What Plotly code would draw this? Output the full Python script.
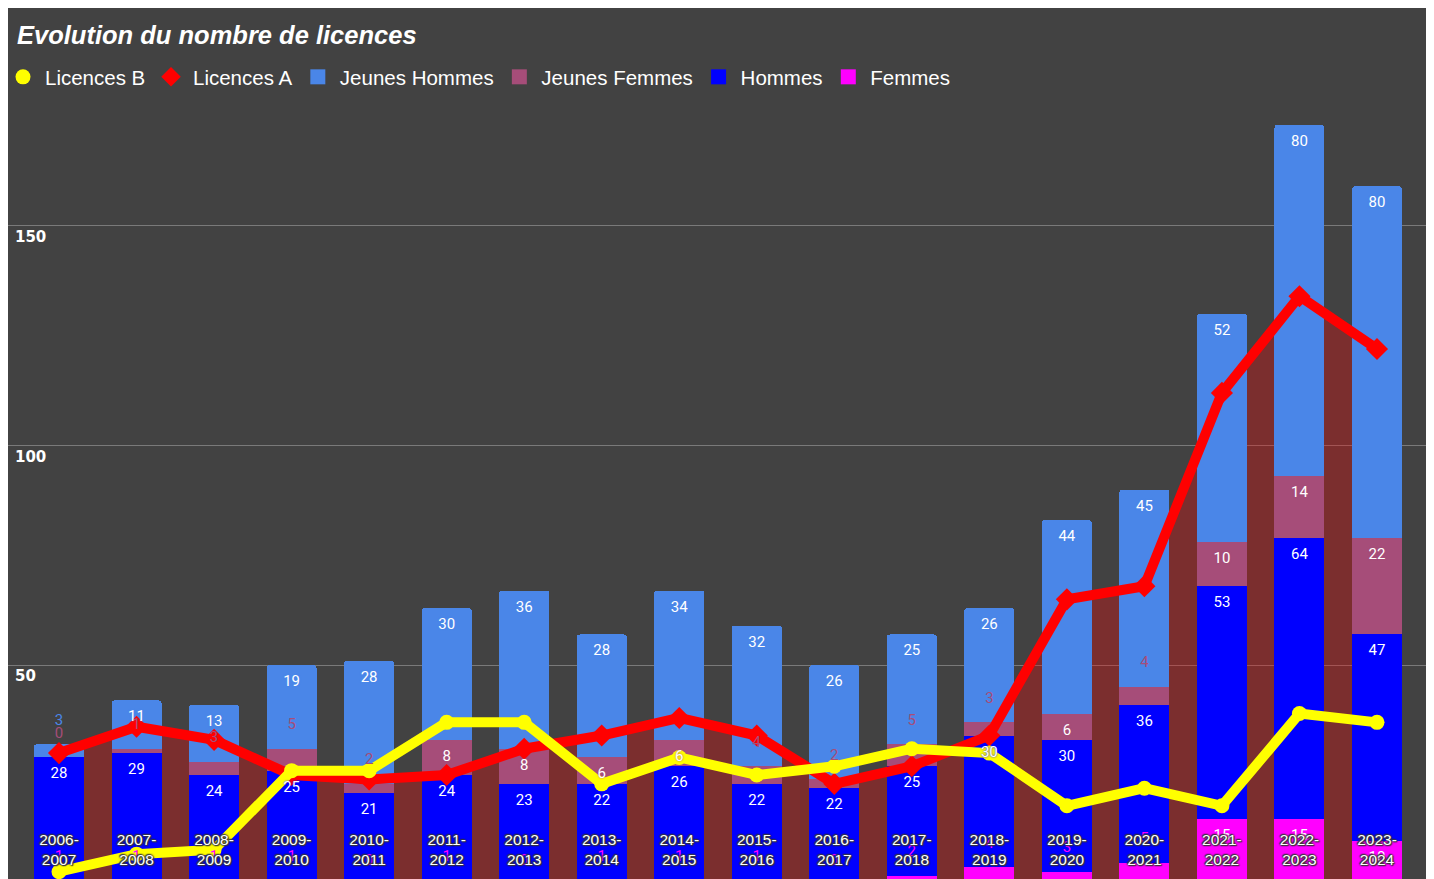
import plotly.graph_objects as go

# ---------------- data ----------------
saisons = ["2006-2007", "2007-2008", "2008-2009", "2009-2010", "2010-2011", "2011-2012",
           "2012-2013", "2013-2014", "2014-2015", "2015-2016", "2016-2017", "2017-2018",
           "2018-2019", "2019-2020", "2020-2021", "2021-2022", "2022-2023", "2023-2024"]
femmes = [1, 1, 1, 1, 0, 1, 0, 1, 1, 1, 0, 2, 4, 3, 5, 15, 15, 10]
hommes = [28, 29, 24, 25, 21, 24, 23, 22, 26, 22, 22, 25, 30, 30, 36, 53, 64, 47]
jeunes_femmes = [0, 1, 3, 5, 2, 8, 8, 6, 6, 4, 2, 5, 3, 6, 4, 10, 14, 22]
jeunes_hommes = [3, 11, 13, 19, 28, 30, 36, 28, 34, 32, 26, 25, 26, 44, 45, 52, 80, 80]
licences_a = [30, 36, 33, 25, 24, 25, 31, 34, 38, 34, 23, 27, 34, 65, 68, 112, 134, 122]
licences_b = [3, 7, 8, 26, 26, 37, 37, 23, 29, 25, 27, 31, 30, 18, 22, 18, 39, 37]
y_ticks = [50, 100, 150]
title = "Evolution du nombre de licences"

# ---------------- style ----------------
BG = "#424242"
C_F, C_H, C_JF, C_JH = "#ff00ff", "#0000ff", "#a64d79", "#4a86e8"
C_A, C_B = "#ff0000", "#ffff00"
W, H = 1420, 871
ML, MR, MT, MB = 0, 0, 92, 0
Y_RANGE = [1.34, 178.67]
X_RANGE = [-0.658, len(saisons) - 1 + 0.658]
LABEL_FONT = "Roboto"

fig = go.Figure()

# area under Licences A (drawn on base subplot, under bars)
fig.add_trace(go.Scatter(x=saisons, y=licences_a, mode="lines", fill="tozeroy",
                         fillcolor="rgba(255,0,0,0.3)", line=dict(width=0, color=C_A),
                         showlegend=False, hoverinfo="skip", xaxis="x", yaxis="y"))

stack = [("Femmes", femmes, C_F), ("Hommes", hommes, C_H),
         ("Jeunes Femmes", jeunes_femmes, C_JF), ("Jeunes Hommes", jeunes_hommes, C_JH)]

for name, vals, col in stack:
    fig.add_trace(go.Bar(x=saisons, y=vals, name=name, marker=dict(color=col, line=dict(width=0)),
                         showlegend=False, hoverinfo="skip", xaxis="x", yaxis="y2"))

fig.add_trace(go.Scatter(x=saisons, y=licences_a, mode="lines+markers",
                         line=dict(color=C_A, width=10),
                         marker=dict(symbol="diamond", size=17, color=C_A),
                         showlegend=False, hoverinfo="skip", xaxis="x", yaxis="y2"))
fig.add_trace(go.Scatter(x=saisons, y=licences_b, mode="lines+markers",
                         line=dict(color=C_B, width=10),
                         marker=dict(symbol="circle", size=15, color=C_B),
                         showlegend=False, hoverinfo="skip", xaxis="x", yaxis="y2"))

# data labels
base = [0] * len(saisons)
for name, vals, col in stack:
    tops = [b + v for b, v in zip(base, vals)]
    txt_in = [str(v) if v >= 6 else "" for v in vals]
    txt_out = [str(v) if v < 6 else "" for v in vals]
    fig.add_trace(go.Scatter(x=saisons, y=tops, text=txt_in, mode="markers+text",
                             textposition="bottom center",
                             marker=dict(size=14, color="rgba(0,0,0,0)"),
                             textfont=dict(family=LABEL_FONT, size=15, color="white",
                                           shadow=f"0 0 2px {col}"),
                             showlegend=False, hoverinfo="skip", xaxis="x", yaxis="y2"))
    fig.add_trace(go.Scatter(x=saisons, y=tops, text=txt_out, mode="markers+text",
                             textposition="top center",
                             marker=dict(size=24, color="rgba(0,0,0,0)"),
                             textfont=dict(family=LABEL_FONT, size=15, color=col),
                             showlegend=False, hoverinfo="skip", xaxis="x", yaxis="y2"))
    base = tops

# legend entries
legend_items = [("Licences B", "circle", C_B, 15), ("Licences A", "diamond", C_A, 15),
                ("Jeunes Hommes", "square", C_JH, 15), ("Jeunes Femmes", "square", C_JF, 15),
                ("Hommes", "square", C_H, 15), ("Femmes", "square", C_F, 15)]
for nm, sym, col, sz in legend_items:
    fig.add_trace(go.Scatter(x=[None], y=[None], mode="markers", name=nm + "\u00a0",
                             marker=dict(symbol=sym, size=sz, color=col),
                             xaxis="x", yaxis="y2"))

tick_text = [s.replace("-", "-<br>") for s in saisons]
halo = ("0 0 2px #383838, 0 0 2px #383838, 0 0 2px #383838, "
        "1px 1px 1px #383838, -1px -1px 1px #383838")

fig.update_layout(
    width=W, height=H,
    margin=dict(l=ML, r=MR, t=MT, b=MB, pad=0),
    paper_bgcolor=BG, plot_bgcolor=BG,
    barmode="stack", bargap=0.355, barcornerradius=3,
    hovermode=False,
    title=dict(text="<b><i>" + title + "</i></b>", x=9 / W, xanchor="left", xref="container",
               y=1 - 27 / H, yanchor="middle", yref="container",
               font=dict(family="Liberation Sans", size=25.5, color="white")),
    legend=dict(orientation="h", x=0, xanchor="left", xref="container",
                y=1 - 69 / H, yanchor="middle", yref="container", indentation=-7,
                font=dict(family="Liberation Sans", size=20.5, color="white"),
                itemwidth=34, bgcolor="rgba(0,0,0,0)", traceorder="normal"),
    xaxis=dict(type="category", range=X_RANGE, tickmode="array", tickvals=saisons,
               ticktext=tick_text, ticklabelposition="inside", ticklabelstandoff=8,
               showgrid=False, showline=False, zeroline=False, ticks="",
               tickfont=dict(family="Liberation Sans", size=15.5, color="white", shadow=halo)),
    yaxis=dict(range=Y_RANGE, tickmode="array", tickvals=y_ticks,
               ticktext=[str(v) for v in y_ticks], ticklabelposition="inside",
               ticklabelshift=11, ticklabelstandoff=4,
               showgrid=True, gridcolor="#7a7a7a", gridwidth=1, zeroline=False,
               showline=False, ticks="",
               tickfont=dict(family="DejaVu Sans", size=15, color="white", weight="bold")),
    yaxis2=dict(range=Y_RANGE, overlaying="y", visible=False, showgrid=False, zeroline=False),
)

fig.write_html("out.html")
